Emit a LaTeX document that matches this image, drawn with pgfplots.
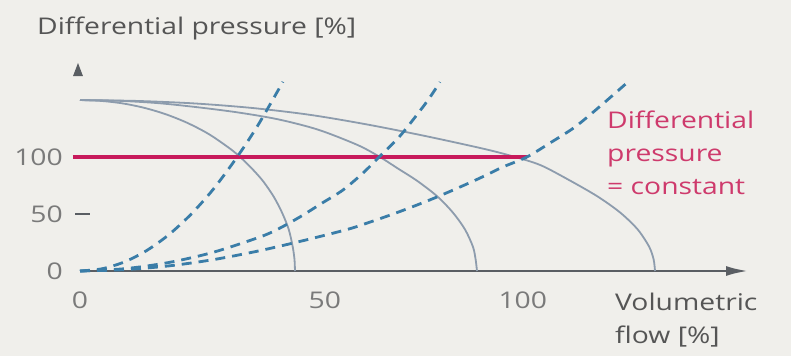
\documentclass[border=0pt]{standalone}
\usepackage{pgfplots}
\pgfplotsset{compat=1.18}
\usepackage{fontspec}
\setmainfont{Open Sans}[FakeStretch=1.23]
\usetikzlibrary{arrows.meta}
\definecolor{bg}{HTML}{F0EFEB}
\definecolor{pumpgray}{HTML}{8D9CAD}
\definecolor{sysblue}{HTML}{3A7DA8}
\definecolor{redline}{HTML}{C71A5B}
\definecolor{redtext}{HTML}{CE3A6C}
\definecolor{axisgray}{HTML}{5A5E63}
\definecolor{labelgray}{HTML}{7A7A7A}
\definecolor{titlegray}{HTML}{555555}
\newcommand{\lfont}{\fontsize{23bp}{27bp}\selectfont}
\begin{document}
\begin{tikzpicture}[x=1bp,y=1bp]
\fill[bg] (0,0) rectangle (791,356);
\begin{axis}[at={(80bp,85bp)}, anchor=south west, scale only axis,
  width=668bp, height=208bp,
  xmin=0, xmax=150.1, ymin=0, ymax=182.5,
  axis x line=bottom, axis y line=left,
  y axis line style={draw=none},
  x axis line style={draw=axisgray, line width=2.5bp, -{Latex[length=22bp,width=10bp]}},
  xtick={0,55,99.5}, xticklabels={0,50,100},
  ytick={0,50,100}, yticklabels={0,50,100},
  major tick length=0,
  ticklabel style={font=\lfont, text=labelgray, inner sep=0pt},
  xticklabel style={anchor=north, yshift=-21bp},
  yticklabel style={anchor=east, xshift=-17bp},
  clip=false]
% pump curves
\addplot[pumpgray, line width=1.8bp, smooth] coordinates {(0,150) (4.83,149.2) (9.66,147) (14.5,143.1) (19.3,137.5) (24.15,129.9) (29,120) (33.8,107.1) (36.2,99.2) (38.6,90) (41.1,79) (43.5,65.4) (45.4,51.2) (46.9,36.5) (47.8,21.2) (48.2,10) (48.3,0)};
\addplot[pumpgray, line width=1.8bp, smooth] coordinates {(0,150) (8.9,149.3) (17.8,147.2) (26.8,143.5) (35.7,139) (44.6,133) (53.5,124) (62.4,110.5) (67.4,100) (71.4,90) (75.8,79) (80.3,65.4) (83.8,51.2) (86.5,36.5) (88.3,21.2) (88.9,10) (89.2,0)};
\addplot[pumpgray, line width=1.8bp, smooth] coordinates {(0,150) (12.9,149.2) (25.8,147) (38.8,143) (51.7,137) (64.6,128.5) (77.5,118.5) (90.4,107.5) (96.9,101) (103.4,93) (109.8,80) (116.3,65.4) (121.4,51.2) (125.3,36.5) (127.9,21.2) (128.9,10) (129.2,0)};
% constant differential pressure
\addplot[redline, line width=4.5bp] coordinates {(-1.6,100) (100.4,100)};
% system curves
\addplot[sysblue, line width=2.8bp, dash pattern=on 10bp off 7bp, smooth] coordinates {(0,0) (5,2) (10,8) (15,18) (20,32) (25,50) (30,72) (35.3,100) (40,128) (45.6,166)};
\addplot[sysblue, line width=2.8bp, dash pattern=on 10bp off 7bp, smooth] coordinates {(0,0) (10,2) (20,7.5) (30,16.5) (40.4,29.8) (44.5,36.8) (49.4,47.4) (54.4,59.6) (59.1,71.1) (63.6,86) (67.2,100) (71.5,116.7) (74.8,132.5) (78.2,150) (80.9,165.8)};
\addplot[sysblue, line width=2.8bp, dash pattern=on 10bp off 7bp, smooth] coordinates {(0,0) (10,1.2) (20,4.5) (30,10) (40,17.5) (50,26.5) (60,36.4) (65,42.7) (70,49.5) (75,56.8) (80,64.6) (85,73) (90,81.8) (95,91.2) (100.4,100) (105.6,112.3) (111.2,126.3) (117,145) (123.6,167.5)};
% y axis arrow head and tick
\fill[axisgray] (axis cs:-1.57,171) -- (axis cs:-0.45,182.5) -- (axis cs:0.67,171) -- cycle;
\draw[axisgray, line width=2.5bp] (axis cs:-1.1,50) -- (axis cs:2.2,50);
\end{axis}
\node[anchor=base west, inner sep=0pt, text=titlegray, font=\lfont] at (37,322) {Differential pressure [\%]};
\node[anchor=base west, inner sep=0pt, text=redtext, font=\lfont] at (607,228) {Differential};
\node[anchor=base west, inner sep=0pt, text=redtext, font=\lfont] at (607,195) {pressure};
\node[anchor=base west, inner sep=0pt, text=redtext, font=\lfont] at (607,162) {= constant};
\node[anchor=base west, inner sep=0pt, text=titlegray, font=\lfont] at (615,46) {Volumetric};
\node[anchor=base west, inner sep=0pt, text=titlegray, font=\lfont] at (615,13) {flow [\%]};
\pgfresetboundingbox
\path (0,0) rectangle (791,356);
\end{tikzpicture}
\end{document}
